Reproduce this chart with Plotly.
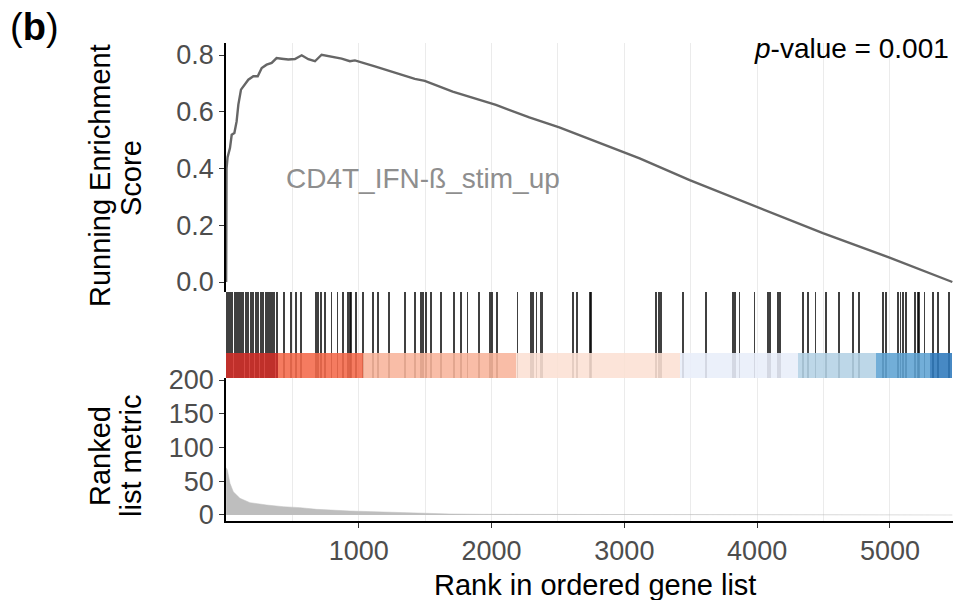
import plotly.graph_objects as go

# ---------------- data ----------------
es_rank = [1, 4, 12, 30, 43, 63, 80, 93, 113, 143, 168, 206, 239, 269, 306, 344, 381, 419, 469, 519,
           570, 620, 670, 720, 783, 871, 933, 971, 1121, 1271, 1422, 1497, 1560, 1707, 2033, 2284,
           2510, 2786, 3115, 3492, 3993, 4495, 4997, 5470]
es_value = [0.0, 0.40, 0.44, 0.472, 0.519, 0.525, 0.566, 0.625, 0.678, 0.695, 0.713, 0.725, 0.725,
            0.754, 0.766, 0.772, 0.789, 0.787, 0.784, 0.786, 0.799, 0.785, 0.778, 0.801, 0.795, 0.787,
            0.778, 0.781, 0.760, 0.737, 0.716, 0.709, 0.698, 0.671, 0.624, 0.580, 0.545, 0.494, 0.436,
            0.359, 0.265, 0.172, 0.086, 0.0]

hit_ranks = [3, 13, 30, 47, 68, 85, 98, 113, 130, 148, 168, 188, 205, 223, 243, 261, 281, 299, 314,
             331, 348, 363, 381, 436, 489, 527, 564, 675, 694, 715, 745, 795, 840, 878, 916, 933, 941,
             976, 1029, 1108, 1146, 1226, 1347, 1422, 1467, 1486, 1505, 1542, 1618, 1718, 1768, 1819,
             1904, 1986, 2004, 2041, 2195, 2295, 2312, 2338, 2370, 2383, 2613, 2643, 2739, 2751, 3241,
             3258, 3278, 3441, 3617, 3817, 3835, 3867, 3980, 4080, 4098, 4155, 4174, 4344, 4381, 4439,
             4520, 4614, 4725, 4770, 4946, 4971, 5058, 5080, 5096, 5122, 5192, 5210, 5222, 5260, 5327,
             5360, 5442]

metric_rank = [1, 10, 30, 55, 105, 181, 306, 431, 557, 682, 933, 1181, 1435, 1685, 1934, 2500, 3000,
               3500, 3860, 3870, 5470]
metric_value = [70, 66.7, 47, 34.5, 24.7, 18.3, 14.8, 12.3, 10.9, 8.4, 5.9, 4.4, 2.5, 1.5, 1.0, 0.7,
                0.5, 0.3, 0.2, 0.0, 0.0]

band_edges = [1, 390, 1028, 2183, 3420, 4305, 4898, 5303, 5470]
band_colors = ["#D12E28", "#F4694B", "#F9B59B", "#FCE1D4", "#E9EEFA", "#B4D2E5", "#5FA3D3", "#2E79BD"]

x_ticks = [1000, 2000, 3000, 4000, 5000]
es_ticks = [0.0, 0.2, 0.4, 0.6, 0.8]
metric_ticks = [0, 50, 100, 150, 200]

gene_set = "CD4T_IFN-ß_stim_up"
p_text = "<i>p</i>-value = 0.001"

# ---------------- figure ----------------
FONT = "Liberation Sans, Arial, Helvetica, sans-serif"
TICK_COL = "#4D4D4D"
GRID = "#EBEBEB"

fig = go.Figure()

# barcode lines
fig.add_trace(go.Bar(
    x=hit_ranks, y=[1] * len(hit_ranks), base=[0] * len(hit_ranks),
    width=[14] * len(hit_ranks),
    marker=dict(color="rgba(0,0,0,0.75)", line=dict(width=0)),
    xaxis="x", yaxis="y2", showlegend=False, hoverinfo="skip"))

# colour band
centers = [(a + b) / 2 for a, b in zip(band_edges[:-1], band_edges[1:])]
widths = [b - a for a, b in zip(band_edges[:-1], band_edges[1:])]
fig.add_trace(go.Bar(
    x=centers, y=[0.29] * len(centers), base=[0] * len(centers), width=widths,
    marker=dict(color=band_colors, line=dict(width=0)), opacity=0.88,
    xaxis="x", yaxis="y2", showlegend=False, hoverinfo="skip"))

# running ES
fig.add_trace(go.Scatter(
    x=es_rank, y=es_value, mode="lines",
    line=dict(color="#666666", width=2.4),
    xaxis="x", yaxis="y", showlegend=False, hoverinfo="skip"))

# ranked list metric
fig.add_trace(go.Scatter(
    x=metric_rank, y=metric_value, mode="lines", fill="tozeroy",
    fillcolor="#BEBEBE", line=dict(color="#BEBEBE", width=0.5),
    xaxis="x", yaxis="y3", showlegend=False, hoverinfo="skip"))

tickfont = dict(family=FONT, size=27, color=TICK_COL)

fig.update_layout(
    width=974, height=600,
    margin=dict(l=226, r=21, t=43, b=79),
    paper_bgcolor="white", plot_bgcolor="white",
    barmode="overlay", bargap=0,
    font=dict(family=FONT),
    xaxis=dict(
        range=[0, 5475], anchor="y3", tickvals=x_ticks, tickfont=tickfont,
        showgrid=True, gridcolor=GRID, gridwidth=1,
        minor=dict(dtick=500, tick0=0, showgrid=True, gridcolor=GRID, gridwidth=1),
        showline=True, linecolor="black", linewidth=2,
        ticks="outside", ticklen=5, tickcolor="#333333", tickwidth=1.2,
        zeroline=False),
    yaxis=dict(
        domain=[0.4791, 1], range=[-0.0352, 0.8423], tickvals=es_ticks, tickformat=".1f",
        tickfont=tickfont, showgrid=False, zeroline=False,
        showline=True, linecolor="black", linewidth=1.5,
        ticks="outside", ticklen=5, tickcolor="#333333", tickwidth=1.2),
    yaxis2=dict(
        domain=[0.2992, 0.4791], range=[0, 1], showticklabels=False, showgrid=False,
        zeroline=False, showline=False, ticks=""),
    yaxis3=dict(
        domain=[0, 0.2992], range=[-8.9, 203], tickvals=metric_ticks, tickfont=tickfont,
        showgrid=False, zeroline=False,
        showline=True, linecolor="black", linewidth=1.5,
        ticks="outside", ticklen=5, tickcolor="#333333", tickwidth=1.2),
)

def px_x(p):
    return (p - 226) / 727.0

def px_y(p):
    return (521 - p) / 478.0

ann_font = dict(family=FONT, size=29, color="black")
annotations = [
    dict(text="(<b>b</b>)", x=px_x(8), y=px_y(27), xanchor="left", yanchor="middle",
         font=dict(family=FONT, size=38, color="black")),
    dict(text=p_text, x=px_x(951), y=px_y(48), xanchor="right", yanchor="middle",
         font=dict(family=FONT, size=28, color="black")),
    dict(text=gene_set, x=px_x(423), y=px_y(178), xanchor="center", yanchor="middle",
         font=dict(family=FONT, size=28, color="#8E8E8E")),
    dict(text="Running Enrichment", x=px_x(100), y=px_y(176), textangle=-90,
         xanchor="center", yanchor="middle", font=ann_font),
    dict(text="Score", x=px_x(131), y=px_y(178), textangle=-90,
         xanchor="center", yanchor="middle", font=ann_font),
    dict(text="Ranked", x=px_x(100), y=px_y(456), textangle=-90,
         xanchor="center", yanchor="middle", font=ann_font),
    dict(text="list metric", x=px_x(131), y=px_y(456), textangle=-90,
         xanchor="center", yanchor="middle", font=ann_font),
    dict(text="Rank in ordered gene list", x=px_x(595), y=px_y(585),
         xanchor="center", yanchor="middle", font=ann_font),
]
for a in annotations:
    a.update(xref="paper", yref="paper", showarrow=False)
fig.update_layout(annotations=annotations)

fig.write_html("out.html")
